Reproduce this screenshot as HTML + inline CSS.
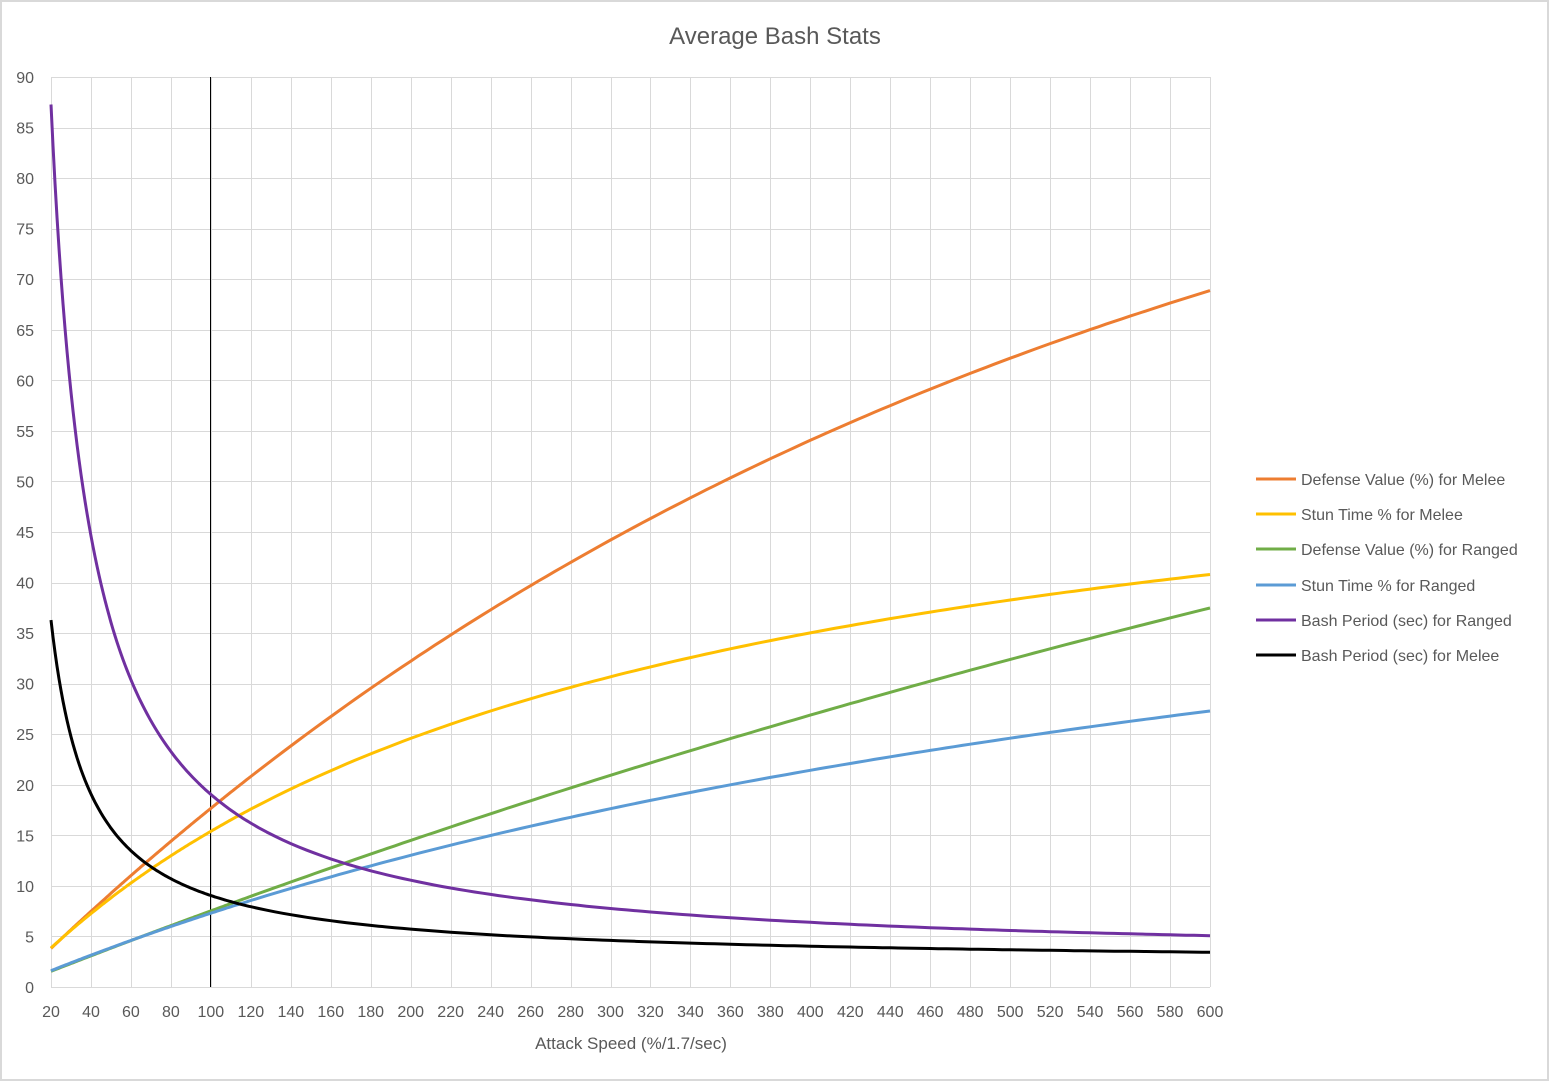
<!DOCTYPE html>
<html><head><meta charset="utf-8"><style>
html,body{margin:0;padding:0;background:#fff}
svg{display:block;font-family:"Liberation Sans",sans-serif}
</style></head><body>
<svg id="s" width="1549" height="1081" xmlns="http://www.w3.org/2000/svg">
<rect x="1" y="1" width="1547" height="1079" fill="#fff" stroke="#d9d9d9" stroke-width="2"/>
<g id="grid" stroke="#d9d9d9" stroke-width="1"></g>
<g id="lab" fill="#595959" font-size="16"></g>
<line x1="210.5" y1="77" x2="210.5" y2="987" stroke="#000" stroke-width="1"/>
<g id="curves" fill="none" stroke-width="3" stroke-linejoin="round"></g>
<text x="775" y="44" text-anchor="middle" font-size="24" fill="#595959">Average Bash Stats</text>
<text x="631" y="1049" text-anchor="middle" font-size="17" fill="#595959">Attack Speed (%/1.7/sec)</text>
<g font-size="16" fill="#595959">
<line x1="1256" y1="479" x2="1296" y2="479" stroke="#ED7D31" stroke-width="3"/><text x="1301" y="485">Defense Value (%) for Melee</text>
<line x1="1256" y1="514" x2="1296" y2="514" stroke="#FFC000" stroke-width="3"/><text x="1301" y="520">Stun Time % for Melee</text>
<line x1="1256" y1="549" x2="1296" y2="549" stroke="#70AD47" stroke-width="3"/><text x="1301" y="555">Defense Value (%) for Ranged</text>
<line x1="1256" y1="585" x2="1296" y2="585" stroke="#5B9BD5" stroke-width="3"/><text x="1301" y="591">Stun Time % for Ranged</text>
<line x1="1256" y1="620" x2="1296" y2="620" stroke="#7030A0" stroke-width="3"/><text x="1301" y="626">Bash Period (sec) for Ranged</text>
<line x1="1256" y1="655" x2="1296" y2="655" stroke="#000" stroke-width="3"/><text x="1301" y="661">Bash Period (sec) for Melee</text>
</g>
</svg>
<script>
var NS="http://www.w3.org/2000/svg";
function X(v){return 51+(v-20)*1159/580}
function Y(v){return 987-v*910/90}
function el(p,t,a,txt){var e=document.createElementNS(NS,t);for(var k in a)e.setAttribute(k,a[k]);if(txt!=null)e.textContent=txt;document.getElementById(p).appendChild(e);}
for(var v=20;v<=600;v+=20){var xx=Math.round(X(v))+0.5;el("grid","line",{x1:xx,x2:xx,y1:77,y2:987});el("lab","text",{x:X(v),y:1017,"text-anchor":"middle"},v);}
for(var v=0;v<=90;v+=5){var yy=Math.round(Y(v))+0.5;el("grid","line",{x1:51,x2:1210,y1:yy,y2:yy});el("lab","text",{x:34,y:Y(v)+6,"text-anchor":"end"},v);}
var fs=[
["#ED7D31",function(x){return 100*(1-Math.exp(-0.001945*x))}],
["#FFC000",function(x){return 60.88*x/(x+295.3)}],
["#70AD47",function(x){return 100*(1-Math.exp(-0.000783*x))}],
["#5B9BD5",function(x){return 60.4*x/(x+727.4)}],
["#7030A0",function(x){return 1707/x+1.93+0.3*(x-20)/580*(x>100?1:(x-20)/80)}],
["#000000",function(x){return 652/(x-0.7)+2.5-0.15*(x-20)/580}]];
fs.forEach(function(f){var d="";for(var x=20;x<=600;x+=(x<120?1:4)){d+=(d?"L":"M")+X(x).toFixed(1)+" "+Y(f[1](x)).toFixed(1);}el("curves","path",{d:d,stroke:f[0]});});
</script>
</body></html>
